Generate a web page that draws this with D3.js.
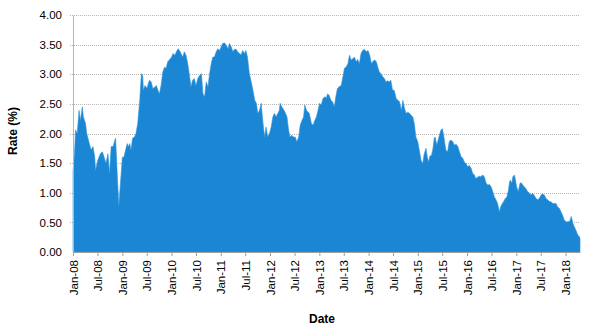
<!DOCTYPE html>
<html>
<head>
<meta charset="utf-8">
<script src="https://cdn.jsdelivr.net/npm/d3@7"></script>
<style>
	html, body { margin: 0; padding: 0; background: #ffffff; }
	svg { display: block; font-family: "Liberation Sans", Arial, sans-serif; }
</style>
</head>
<body>
<svg id="chart"></svg>
<script>
	"use strict";

	var aDates = [
		"2008-01-01", "2008-01-12", "2008-01-20", "2008-02-01", "2008-02-15", "2008-02-25", "2008-03-10", "2008-03-18",
		"2008-04-03", "2008-04-12", "2008-05-01", "2008-05-15", "2008-05-28", "2008-06-10", "2008-06-16", "2008-07-03",
		"2008-07-22", "2008-08-06", "2008-08-19", "2008-09-01", "2008-09-16", "2008-09-28", "2008-10-10", "2008-10-25",
		"2008-11-06", "2008-11-12", "2008-11-25", "2008-12-06", "2008-12-16", "2009-01-01", "2009-01-12", "2009-01-25",
		"2009-02-06", "2009-02-15", "2009-02-25", "2009-03-06", "2009-03-18", "2009-04-01", "2009-04-12", "2009-04-25",
		"2009-05-10", "2009-05-22", "2009-06-01", "2009-06-06", "2009-06-18", "2009-07-03", "2009-07-12", "2009-07-22",
		"2009-08-03", "2009-08-15", "2009-08-28", "2009-09-10", "2009-09-22", "2009-10-03", "2009-10-15", "2009-10-28",
		"2009-11-10", "2009-11-22", "2009-12-03", "2009-12-15", "2010-01-01", "2010-01-12", "2010-01-25", "2010-02-06",
		"2010-02-18", "2010-03-01", "2010-03-12", "2010-03-25", "2010-04-06", "2010-04-18", "2010-05-01", "2010-05-12",
		"2010-05-25", "2010-06-06", "2010-06-18", "2010-07-01", "2010-07-15", "2010-07-28", "2010-08-10", "2010-08-22",
		"2010-09-03", "2010-09-15", "2010-09-28", "2010-10-10", "2010-10-22", "2010-11-03", "2010-11-15", "2010-11-28",
		"2010-12-10", "2010-12-22", "2011-01-03", "2011-01-15", "2011-01-28", "2011-02-10", "2011-02-25", "2011-03-06",
		"2011-03-18", "2011-04-01", "2011-04-12", "2011-04-25", "2011-05-06", "2011-05-18", "2011-06-01", "2011-06-12",
		"2011-06-25", "2011-07-06", "2011-07-18", "2011-08-01", "2011-08-12", "2011-08-25", "2011-09-10", "2011-09-22",
		"2011-10-03", "2011-10-15", "2011-10-28", "2011-11-03", "2011-11-12", "2011-11-22", "2011-12-03", "2011-12-15",
		"2011-12-28", "2012-01-10", "2012-01-22", "2012-02-03", "2012-02-15", "2012-02-28", "2012-03-10", "2012-03-16",
		"2012-03-28", "2012-04-12", "2012-04-25", "2012-05-06", "2012-05-18", "2012-05-28", "2012-06-10", "2012-06-22",
		"2012-07-06", "2012-07-18", "2012-08-01", "2012-08-12", "2012-08-25", "2012-09-06", "2012-09-15", "2012-09-28",
		"2012-10-06", "2012-10-18", "2012-11-03", "2012-11-15", "2012-11-28", "2012-12-10", "2012-12-22", "2013-01-03",
		"2013-01-15", "2013-01-28", "2013-02-10", "2013-02-22", "2013-03-03", "2013-03-15", "2013-03-28", "2013-04-10",
		"2013-04-22", "2013-05-03", "2013-05-15", "2013-05-28", "2013-06-12", "2013-06-25", "2013-07-06", "2013-07-18",
		"2013-08-01", "2013-08-12", "2013-08-25", "2013-09-06", "2013-09-18", "2013-10-01", "2013-10-12", "2013-10-25",
		"2013-11-06", "2013-11-18", "2013-12-01", "2013-12-15", "2013-12-28", "2014-01-10", "2014-01-22", "2014-02-03",
		"2014-02-15", "2014-02-28", "2014-03-10", "2014-03-22", "2014-04-03", "2014-04-15", "2014-04-28", "2014-05-10",
		"2014-05-22", "2014-06-03", "2014-06-15", "2014-06-28", "2014-07-10", "2014-07-25", "2014-08-06", "2014-08-18",
		"2014-09-01", "2014-09-12", "2014-09-25", "2014-10-06", "2014-10-18", "2014-11-01", "2014-11-12", "2014-11-25",
		"2014-12-06", "2014-12-18", "2015-01-01", "2015-01-12", "2015-01-25", "2015-02-06", "2015-02-18", "2015-03-03",
		"2015-03-12", "2015-03-22", "2015-04-01", "2015-04-12", "2015-04-22", "2015-05-03", "2015-05-10", "2015-05-22",
		"2015-06-01", "2015-06-10", "2015-06-22", "2015-07-03", "2015-07-15", "2015-07-28", "2015-08-10", "2015-08-22",
		"2015-09-03", "2015-09-18", "2015-10-01", "2015-10-12", "2015-10-25", "2015-11-06", "2015-11-18", "2015-12-01",
		"2015-12-12", "2015-12-25", "2016-01-06", "2016-01-18", "2016-02-01", "2016-02-12", "2016-02-25", "2016-03-06",
		"2016-03-18", "2016-04-01", "2016-04-12", "2016-04-28", "2016-05-10", "2016-05-22", "2016-06-03", "2016-06-15",
		"2016-06-28", "2016-07-10", "2016-07-22", "2016-08-03", "2016-08-15", "2016-08-28", "2016-09-06", "2016-09-15",
		"2016-09-28", "2016-10-10", "2016-10-22", "2016-11-03", "2016-11-12", "2016-11-18", "2016-11-28", "2016-12-06",
		"2016-12-18", "2016-12-25", "2017-01-03", "2017-01-15", "2017-01-28", "2017-02-06", "2017-02-18", "2017-03-01",
		"2017-03-12", "2017-03-25", "2017-04-06", "2017-04-18", "2017-05-01", "2017-05-12", "2017-05-28", "2017-06-10",
		"2017-06-22", "2017-07-03", "2017-07-15", "2017-07-28", "2017-08-10", "2017-08-22", "2017-09-03", "2017-09-15",
		"2017-09-28", "2017-10-10", "2017-10-22", "2017-11-03", "2017-11-15", "2017-11-28", "2017-12-10", "2017-12-22",
		"2018-01-06", "2018-01-18", "2018-02-01", "2018-02-12", "2018-02-25", "2018-03-06", "2018-03-18", "2018-04-01",
		"2018-04-12", "2018-04-18"
	];

	var aRates = [
		1.35, 1.66, 2.06, 2.00, 2.39, 2.22, 2.45, 2.28,
		2.17, 2.00, 1.83, 1.72, 1.78, 1.61, 1.38, 1.55,
		1.66, 1.69, 1.60, 1.50, 1.66, 1.33, 1.78, 1.78,
		1.89, 1.92, 1.27, 0.78, 1.10, 1.60, 1.60, 1.72,
		1.83, 1.78, 1.83, 1.72, 1.92, 1.94, 2.00, 2.17,
		2.56, 3.01, 2.98, 2.73, 2.81, 2.76, 2.84, 2.90,
		2.87, 2.76, 2.78, 2.81, 2.73, 2.67, 2.81, 3.04,
		3.12, 3.10, 3.21, 3.24, 3.29, 3.35, 3.32, 3.38,
		3.43, 3.40, 3.35, 3.29, 3.38, 3.32, 3.18, 3.01,
		2.79, 2.90, 2.93, 2.81, 2.93, 2.98, 3.01, 2.67,
		2.62, 2.87, 2.79, 3.01, 3.18, 3.29, 3.29, 3.38,
		3.43, 3.40, 3.46, 3.52, 3.53, 3.49, 3.43, 3.52,
		3.47, 3.38, 3.42, 3.42, 3.38, 3.35, 3.33, 3.40,
		3.35, 3.40, 3.29, 3.01, 2.90, 2.76, 2.56, 2.51,
		2.34, 2.39, 2.51, 2.34, 2.14, 1.94, 2.11, 1.94,
		2.00, 2.11, 2.28, 2.34, 2.28, 2.34, 2.39, 2.51,
		2.45, 2.40, 2.34, 2.28, 2.06, 1.94, 1.97, 1.94,
		1.94, 1.86, 1.94, 2.14, 2.22, 2.28, 2.48, 2.39,
		2.37, 2.34, 2.17, 2.14, 2.22, 2.28, 2.39, 2.51,
		2.48, 2.59, 2.62, 2.60, 2.67, 2.64, 2.56, 2.53,
		2.45, 2.62, 2.76, 2.79, 2.81, 2.96, 3.10, 3.12,
		3.18, 3.32, 3.24, 3.26, 3.29, 3.21, 3.25, 3.18,
		3.35, 3.40, 3.42, 3.38, 3.40, 3.32, 3.18, 3.22,
		3.24, 3.21, 3.12, 3.04, 3.01, 2.96, 2.93, 2.87,
		2.89, 2.87, 2.90, 2.73, 2.73, 2.59, 2.56, 2.54,
		2.39, 2.56, 2.42, 2.34, 2.36, 2.34, 2.31, 2.28,
		2.17, 1.94, 1.86, 1.72, 1.55, 1.49, 1.66, 1.75,
		1.61, 1.52, 1.62, 1.63, 1.72, 1.92, 1.94, 1.80,
		1.89, 1.97, 2.06, 2.08, 1.92, 1.72, 1.69, 1.86,
		1.89, 1.86, 1.80, 1.82, 1.78, 1.69, 1.61, 1.58,
		1.52, 1.49, 1.44, 1.46, 1.41, 1.33, 1.30, 1.24,
		1.26, 1.28, 1.27, 1.30, 1.26, 1.16, 1.13, 1.14,
		1.10, 1.02, 0.93, 0.88, 0.82, 0.68, 0.76, 0.80,
		0.85, 0.90, 0.93, 1.04, 1.19, 1.21, 1.16, 1.27,
		1.30, 1.22, 1.10, 1.02, 1.16, 1.17, 1.13, 1.10,
		1.07, 1.02, 1.00, 0.96, 0.99, 0.96, 0.90, 0.88,
		0.91, 0.96, 0.98, 0.96, 0.90, 0.88, 0.85, 0.85,
		0.82, 0.82, 0.82, 0.76, 0.74, 0.68, 0.62, 0.54,
		0.51, 0.51, 0.52, 0.60, 0.48, 0.43, 0.37, 0.29,
		0.26, 0.23
	];

	var aYTicks = [0, 0.5, 1, 1.5, 2, 2.5, 3, 3.5, 4];
	var sXTitle = "Date";
	var sYTitle = "Rate (%)";

	var iWidth = 595;
	var iHeight = 333;
	var oMargin = { top: 15, right: 15, bottom: 81, left: 73 };

	var fnParse = d3.timeParse("%Y-%m-%d");
	var aData = aDates.map(function (sDate, i) {
		return { date: fnParse(sDate), value: aRates[i] };
	});

	var oSvg = d3.select("#chart")
		.attr("width", iWidth)
		.attr("height", iHeight);

	var oScaleX = d3.scaleTime()
		.domain(d3.extent(aData, function (d) { return d.date; }))
		.range([oMargin.left, iWidth - oMargin.right]);

	var oScaleY = d3.scaleLinear()
		.domain([0, 4])
		.range([iHeight - oMargin.bottom, oMargin.top]);

	// gridlines (dotted, like the original)
	oSvg.append("g")
		.selectAll("line")
		.data(aYTicks.filter(function (v) { return v > 0; }))
		.enter().append("line")
		.attr("x1", oMargin.left - 3)
		.attr("x2", iWidth - oMargin.right)
		.attr("y1", function (d) { return Math.round(oScaleY(d)) + 0.5; })
		.attr("y2", function (d) { return Math.round(oScaleY(d)) + 0.5; })
		.attr("stroke", "#b5b5b5")
		.attr("stroke-width", 1)
		.attr("stroke-dasharray", "1,1");

	// area
	var fnArea = d3.area()
		.x(function (d) { return oScaleX(d.date); })
		.y0(oScaleY(0))
		.y1(function (d) { return oScaleY(d.value); });

	oSvg.append("path")
		.datum(aData)
		.attr("fill", "#1b87d4")
		.attr("stroke", "#2b95dc")
		.attr("stroke-width", 0.6)
		.attr("d", fnArea);

	// y axis
	var oYAxis = oSvg.append("g")
		.attr("transform", "translate(" + oMargin.left + ",0)")
		.call(d3.axisLeft(oScaleY).tickValues(aYTicks).tickFormat(d3.format(".2f")).tickSize(0).tickPadding(11));
	oYAxis.select(".domain").attr("stroke", "#b5b5b5");
	oYAxis.selectAll("text")
		.attr("font-family", "Liberation Sans, Arial, sans-serif")
		.attr("font-size", "11.5px")
		.attr("fill", "#000");

	// x axis
	var oXAxis = oSvg.append("g")
		.attr("transform", "translate(0," + (iHeight - oMargin.bottom) + ")")
		.call(d3.axisBottom(oScaleX)
			.ticks(d3.timeMonth.every(6))
			.tickFormat(d3.timeFormat("%b-%y"))
			.tickSizeOuter(0)
			.tickSizeInner(4));
	oXAxis.select(".domain").attr("stroke", "#a0a0a0");
	oXAxis.selectAll(".tick line").attr("stroke", "#a0a0a0");
	oXAxis.selectAll("text")
		.attr("font-family", "Liberation Sans, Arial, sans-serif")
		.attr("font-size", "11.5px")
		.attr("fill", "#000")
		.attr("text-anchor", "end")
		.attr("transform", "rotate(-90)")
		.attr("x", -8)
		.attr("y", 0)
		.attr("dy", "0.35em");

	// titles
	oSvg.append("text")
		.attr("x", 322)
		.attr("y", 323)
		.attr("text-anchor", "middle")
		.attr("font-size", "12px")
		.attr("font-weight", "bold")
		.text(sXTitle);

	oSvg.append("text")
		.attr("transform", "translate(17,131) rotate(-90)")
		.attr("text-anchor", "middle")
		.attr("font-size", "12px")
		.attr("font-weight", "bold")
		.text(sYTitle);
</script>
</body>
</html>
